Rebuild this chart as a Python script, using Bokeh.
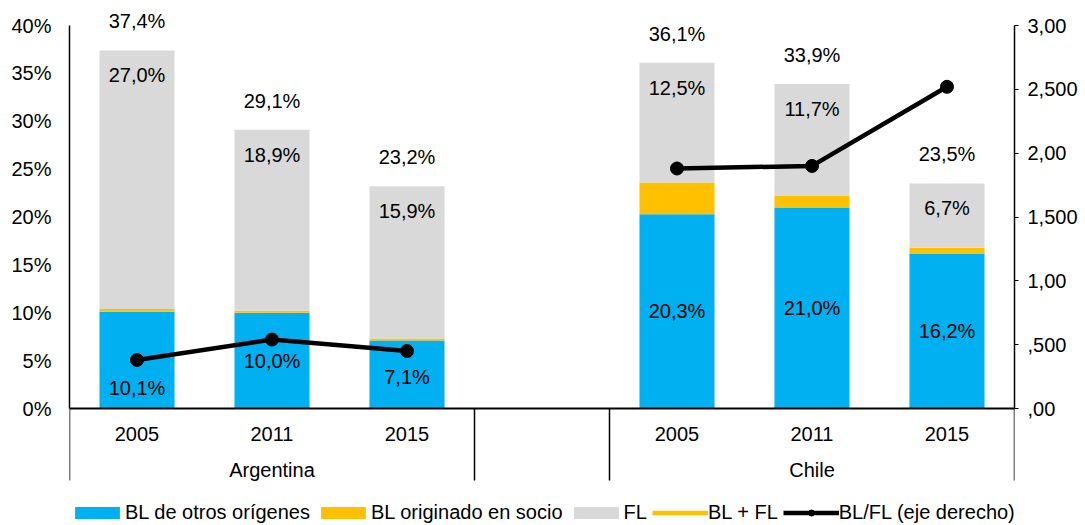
from bokeh.plotting import figure
from bokeh.models import (Range1d, LinearAxis, FixedTicker, ColumnDataSource,
                          LabelSet, Legend, LegendItem)
from bokeh.core.properties import value
from bokeh.embed import file_html
from bokeh.resources import INLINE

# ---------------- data ----------------
countries = ["Argentina", "Chile"]
years = ["2005", "2011", "2015"]
bl_otros = [10.1, 10.0, 7.1, 20.3, 21.0, 16.2]
bl_socio = [0.3, 0.2, 0.2, 3.3, 1.2, 0.6]
fl = [27.0, 18.9, 15.9, 12.5, 11.7, 6.7]
bl_fl_total = [37.4, 29.1, 23.2, 36.1, 33.9, 23.5]
ratio = [0.38, 0.54, 0.45, 1.88, 1.90, 2.52]
left_ticks = [0, 5, 10, 15, 20, 25, 30, 35, 40]
right_ticks = [0.0, 0.5, 1.0, 1.5, 2.0, 2.5, 3.0]
right_tick_labels = [",00", ",500", "1,00", "1,500", "2,00", "2,500", "3,00"]

# ---------------- styles / layout ----------------
BLUE = "#00B0F0"
ORANGE = "#FFC000"
GRAY = "#D9D9D9"
FONT = "Liberation Sans"
FS = "20px"
blue_label_shift = [-28, 0, -2, 0, 0, 0]

W, H = 1085, 525
FRAME_L, FRAME_R = 69, 1014          # page x of left/right axes
AXIS_TOP, AXIS_ZERO = 25, 408        # page y of 40% and 0%
FRAME_BOTTOM = H                     # frame extends below the zero line
LMAX, RMAX = 40.0, 3.0
ppu = (AXIS_ZERO - AXIS_TOP) / LMAX  # pixels per percentage point
y_lo = -(FRAME_BOTTOM - AXIS_ZERO) / ppu
y_hi = AXIS_ZERO / ppu
SEP_LEN = 72                         # separator length below axis (px)

n = len(years)
n_slots = 2 * n + 1
xpos = [i + 0.5 for i in range(n)] + [n + 1 + i + 0.5 for i in range(n)]

def fmt(v):
    return f"{v:.1f}".replace(".", ",") + "%"

tops = [a + b + c for a, b, c in zip(bl_otros, bl_socio, fl)]
src = ColumnDataSource(dict(
    x=xpos, otros=bl_otros, socio=bl_socio, fl=fl, total=bl_fl_total,
    top=tops, mid=[v / 2 for v in bl_otros],
    otros_lbl=[fmt(v) for v in bl_otros], fl_lbl=[fmt(v) for v in fl],
    tot_lbl=[fmt(v) for v in bl_fl_total], shift=blue_label_shift,
    year=years * len(countries), ratio=ratio,
))

p = figure(width=W, height=H, x_range=Range1d(0, n_slots), y_range=Range1d(y_lo, y_hi),
           output_backend="svg", toolbar_location=None, x_axis_location=None,
           min_border_left=FRAME_L, min_border_right=W - FRAME_R,
           min_border_top=0, min_border_bottom=0)
p.extra_y_ranges = {"r": Range1d(y_lo * RMAX / LMAX, y_hi * RMAX / LMAX)}
p.xgrid.visible = False
p.ygrid.visible = False
p.outline_line_color = None
p.background_fill_color = "white"
p.border_fill_color = "white"

# left axis
ya = p.yaxis[0]
ya.bounds = (0, LMAX)
ya.ticker = FixedTicker(ticks=left_ticks)
ya.major_label_overrides = {t: f"{t}%" for t in left_ticks}
ya.major_tick_in = 0
ya.major_tick_out = 0
ya.minor_tick_in = 0
ya.minor_tick_out = 0
ya.major_label_standoff = 18
ya.axis_line_width = 1.5
ya.axis_line_color = "black"
ya.major_label_text_font = FONT
ya.major_label_text_font_size = FS
ya.major_label_text_color = "black"

# right axis
ra = LinearAxis(y_range_name="r", ticker=FixedTicker(ticks=right_ticks),
                major_label_overrides=dict(zip(right_ticks, right_tick_labels)))
ra.bounds = (0, RMAX)
ra.major_tick_in = 0
ra.major_tick_out = 4
ra.minor_tick_in = 0
ra.minor_tick_out = 0
ra.major_label_standoff = 9
ra.axis_line_width = 1.5
ra.axis_line_color = "black"
ra.major_tick_line_color = "black"
ra.major_label_text_font = FONT
ra.major_label_text_font_size = FS
ra.major_label_text_color = "black"
p.add_layout(ra, "right")

# stacked bars
bars = p.vbar_stack(["otros", "socio", "fl"], x="x", width=0.556, source=src,
                    fill_color=[BLUE, ORANGE, GRAY], line_color=None)

# category axis line and group separators
seps = [0, n, n + 1, n_slots]
p.segment(x0=seps, x1=seps, y0=[0] * 4, y1=[-SEP_LEN / ppu] * 4,
          line_color="black", line_width=1.5)
p.segment(x0=[0], x1=[n_slots + 0.02], y0=[0], y1=[0], line_color="black", line_width=2)

# ratio line (broken at the gap)
line_x, line_y = [], []
for g in range(len(countries)):
    if g > 0:
        line_x.append(float("nan")); line_y.append(float("nan"))
    line_x += xpos[g * n:(g + 1) * n]
    line_y += ratio[g * n:(g + 1) * n]
lr = p.line(x=line_x, y=line_y, y_range_name="r", line_color="black", line_width=4.5)
sr = p.scatter(x="x", y="ratio", source=src, y_range_name="r", size=13,
               fill_color="black", line_color="black")
# BL + FL series: shown only through its labels and legend entry
proxy = p.line(x=[float("nan"), float("nan")], y=[float("nan"), float("nan")],
               line_color=ORANGE, line_width=4.5)

# data labels
common = dict(text_font=value(FONT), text_font_size=value(FS), text_color="black",
              text_align="center", text_baseline="middle", source=src)
p.add_layout(LabelSet(x="x", y="mid", text="otros_lbl", y_offset="shift", **common))
p.add_layout(LabelSet(x="x", y="top", text="fl_lbl", y_offset=-25, **common))
p.add_layout(LabelSet(x="x", y="total", text="tot_lbl", y_offset=29, **common))

# category labels
p.add_layout(LabelSet(x="x", y=0, text="year", y_offset=-25, **common))
csrc = ColumnDataSource(dict(
    x=[sum(xpos[g * n:(g + 1) * n]) / n for g in range(len(countries))],
    name=countries))
common_c = dict(common); common_c["source"] = csrc
p.add_layout(LabelSet(x="x", y=0, text="name", y_offset=-61, **common_c))

legend = Legend(items=[
    LegendItem(label="BL de otros orígenes", renderers=[bars[0]]),
    LegendItem(label="BL originado en socio", renderers=[bars[1]]),
    LegendItem(label="FL", renderers=[bars[2]]),
    LegendItem(label="BL + FL", renderers=[proxy]),
    LegendItem(label="BL/FL (eje derecho)", renderers=[lr, sr]),
], orientation="horizontal", location=(0, 1))
legend.padding = 0
legend.margin = 0
legend.spacing = 5
legend.glyph_width = 56
legend.glyph_height = 15
legend.label_standoff = 0
legend.label_text_font = FONT
legend.label_text_font_size = FS
legend.label_text_color = "black"
legend.border_line_color = None
legend.background_fill_alpha = 0
p.add_layout(legend)

open("out.html", "w").write(file_html(p, INLINE))
